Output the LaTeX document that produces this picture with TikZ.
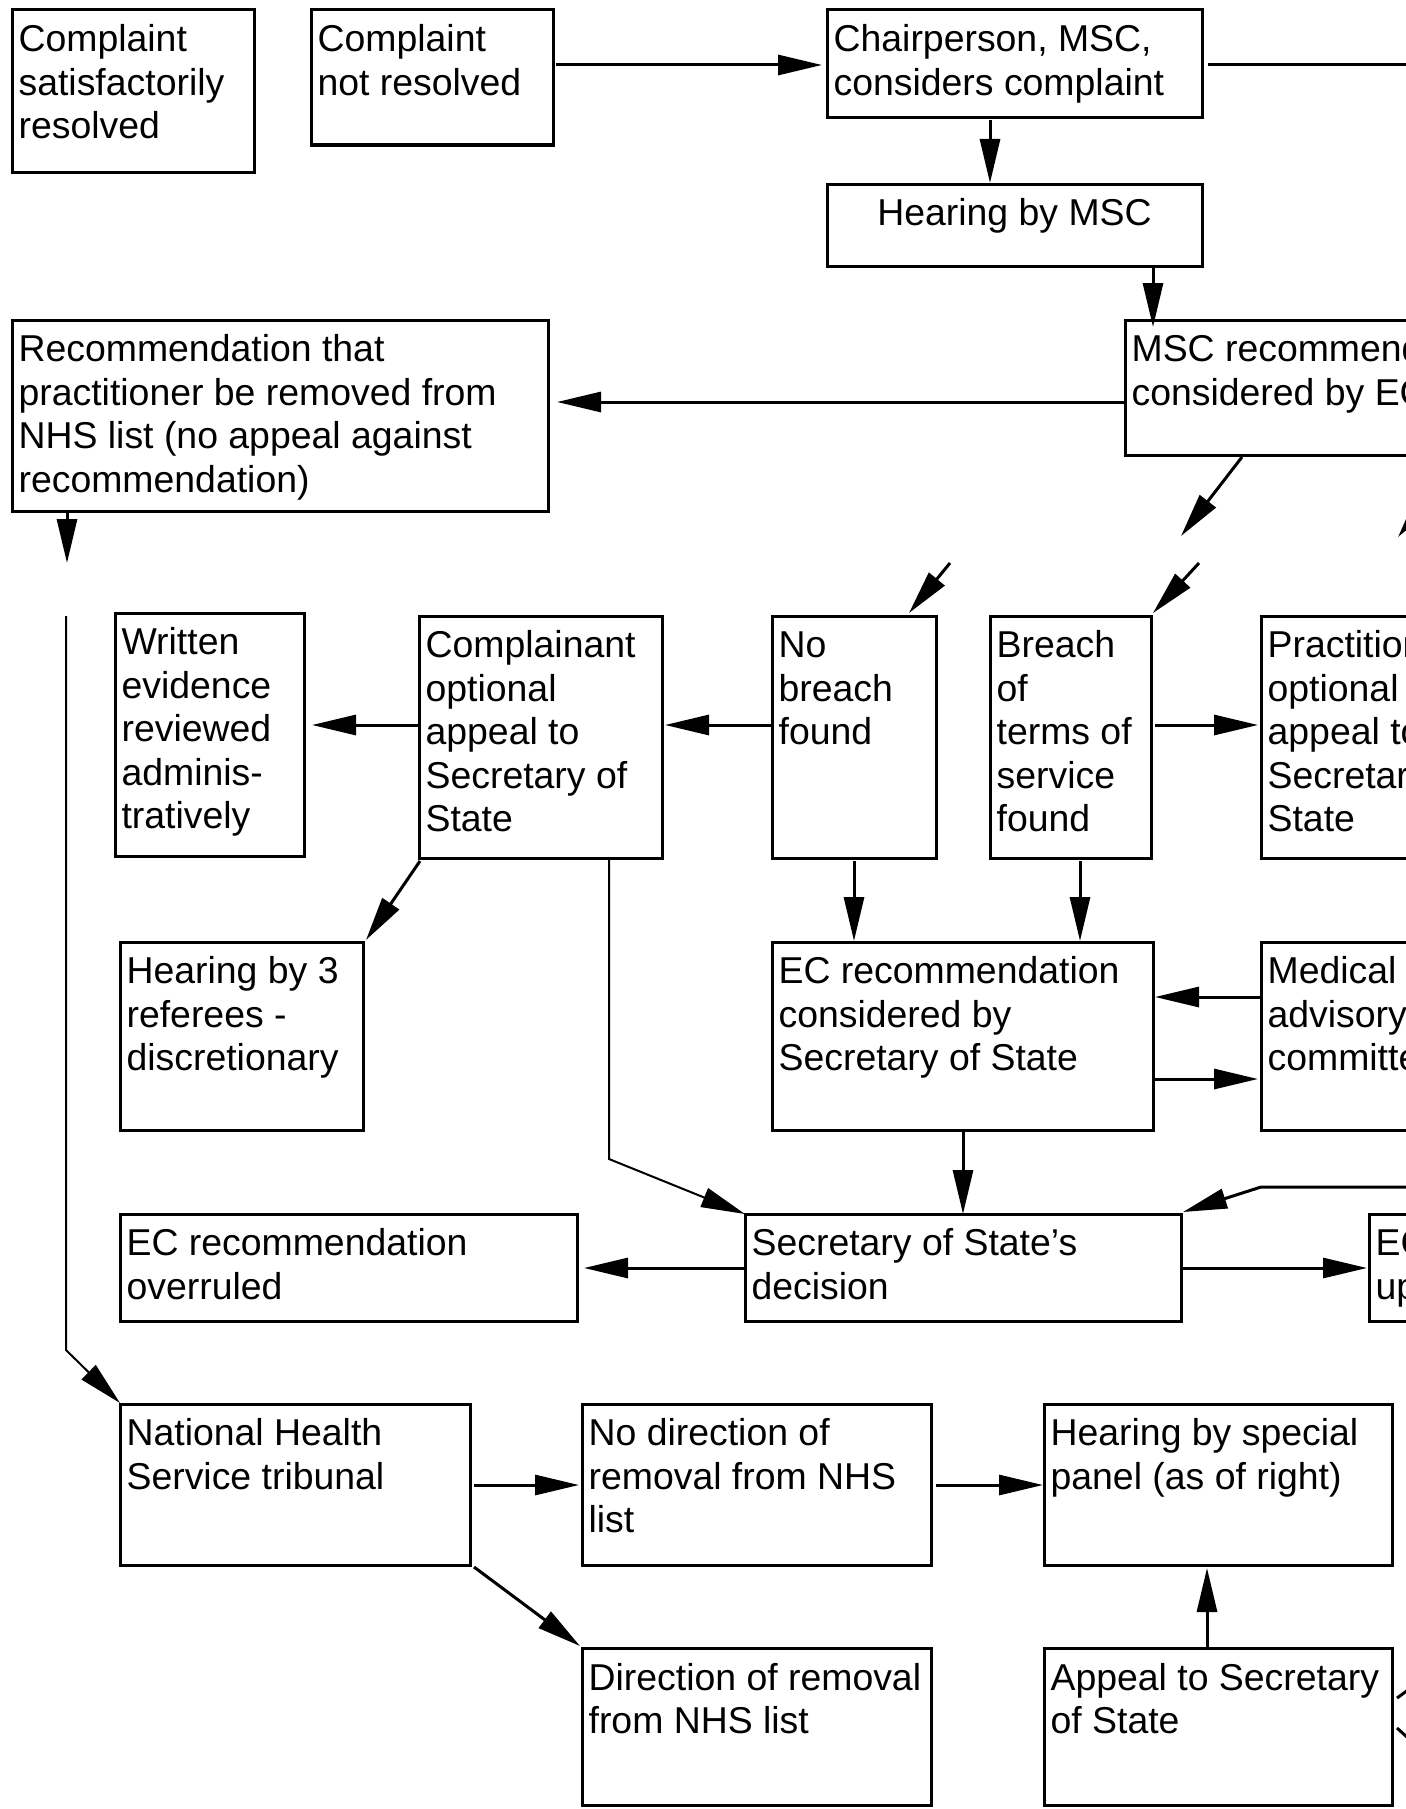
\documentclass[tikz,border=0pt]{standalone}
\usepackage{fontspec}
\setmainfont{Liberation Sans}
\usetikzlibrary{arrows.meta}
\newcommand\bt[3]{\parbox[c][\dimexpr#2pt*1/2\relax][t]{\dimexpr#1pt*1/2-6.6pt\relax}{\vspace*{5.8pt}\noindent\begin{tabular}[t]{@{}l@{}}#3\end{tabular}}}
\newcommand\btc[3]{\parbox[c][\dimexpr#2pt*1/2\relax][t]{\dimexpr#1pt*1/2-6.6pt\relax}{\vspace*{5.8pt}\centering\begin{tabular}[t]{@{}c@{}}#3\end{tabular}\par}}
\begin{document}
\begin{tikzpicture}[x=0.5pt,y=-0.5pt,
  box/.style={draw,line width=1.5pt,inner xsep=3.3pt,inner ysep=0pt,outer sep=0pt,anchor=north west,font=\fontsize{18.7pt}{21.7pt}\selectfont},
  arr/.style={line width=1.5pt,line join=miter,-{Triangle[length=22pt,width=10pt]}},
  thinarr/.style={arr,line width=1pt},
  plain/.style={line width=1.5pt}]
\useasboundingbox (0,0) rectangle (1406,1809);
\clip (0,0) rectangle (1406,1809);
\fill[white] (0,0) rectangle (1406,1809);

% boxes
\node[box] (sat) at (12,10) {\bt{242}{162}{Complaint\\satisfactorily\\resolved}};
\node[box] (notres) at (311,10) {\bt{242}{135}{Complaint\\not resolved}};
\node[box] (chair) at (827,10) {\bt{375}{108}{Chairperson, MSC,\\considers complaint}};
\node[box] (hearmsc) at (827,184) {\btc{375}{82}{Hearing by MSC}};
\node[box] (msc) at (1125,320) {\bt{600}{135}{MSC recommendation\\considered by EC}};
\node[box] (recrem) at (12,320) {\bt{536}{191}{Recommendation that\\practitioner be removed from\\NHS list (no appeal against\\recommendation)}};
\node[box] (written) at (115,613) {\bt{189}{243}{Written\\evidence\\reviewed\\adminis-\\tratively}};
\node[box] (compl) at (419,616) {\bt{243}{242}{Complainant\\optional\\appeal to\\Secretary of\\State}};
\node[box] (nobreach) at (772,616) {\bt{164}{242}{No\\breach\\found}};
\node[box] (breach) at (990,616) {\bt{161}{242}{Breach\\of\\terms of\\service\\found}};
\node[box] (pract) at (1261,616) {\bt{500}{242}{Practitioner\\optional\\appeal to\\Secretary of\\State}};
\node[box] (hear3) at (120,942) {\bt{243}{188}{Hearing by 3\\referees -\\discretionary}};
\node[box] (ecrec) at (772,942) {\bt{381}{188}{EC recommendation\\considered by\\Secretary of State}};
\node[box] (medical) at (1261,942) {\bt{500}{188}{Medical\\advisory\\committee}};
\node[box] (overruled) at (120,1214) {\bt{457}{107}{EC recommendation\\overruled}};
\node[box] (sos) at (745,1214) {\bt{436}{107}{Secretary of State’s\\decision}};
\node[box] (upheld) at (1369,1214) {\bt{500}{107}{EC recommendation\\upheld}};
\node[box] (nhs) at (120,1404) {\bt{350}{161}{National Health\\Service tribunal}};
\node[box] (nodir) at (582,1404) {\bt{349}{161}{No direction of\\removal from NHS\\list}};
\node[box] (special) at (1044,1404) {\bt{348}{161}{Hearing by special\\panel (as of right)}};
\node[box] (direction) at (582,1648) {\bt{349}{157}{Direction of removal\\from NHS list}};
\node[box] (appeal) at (1044,1648) {\bt{348}{157}{Appeal to Secretary\\of State}};

% free ends
\coordinate (ctop) at (1450,65);
\coordinate (f1) at (1181,536);
\coordinate (f2) at (1398,537);
\coordinate (g1) at (950,563);
\coordinate (h1) at (1199,563);
\coordinate (i1) at (67,563);
\coordinate (j1) at (66,616);
\coordinate (j2) at (66,1350);
\coordinate (u1) at (1450,1187);
\coordinate (u2) at (1261,1187);

% connectors
\draw[arr] ([shift={(3,55)}]notres.north east) -- ([shift={(-5,55)}]chair.north west);
\draw[plain] ([shift={(6,55)}]chair.north east) -- (ctop);
\draw[arr] ([shift={(163,2)}]chair.south west) -- ([shift={(163,-1)}]hearmsc.north west);
\draw[arr] ([shift={(326,2)}]hearmsc.south west) -- ([shift={(28,7)}]msc.north west);
\draw[arr] ([shift={(0,82)}]msc.north west) -- ([shift={(9,82)}]recrem.north east);
\draw[arr] ([shift={(117,2)}]msc.south west) -- (f1);
\draw[arr] ([shift={(334,2)}]msc.south west) -- (f2);
\draw[arr] (g1) -- ([shift={(-27,-3)}]nobreach.north east);
\draw[arr] (h1) -- ([shift={(2,-3)}]breach.north east);
\draw[arr] ([shift={(55,0)}]recrem.south west) -- (i1);
\draw[thinarr] (j1) -- (j2) -- ([shift={(0,-1)}]nhs.north west);
\draw[arr] ([shift={(0,109)}]compl.north west) -- ([shift={(8,112)}]written.north east);
\draw[arr] ([shift={(0,109)}]nobreach.north west) -- ([shift={(3,109)}]compl.north east);
\draw[arr] ([shift={(4,109)}]breach.north east) -- ([shift={(-3,109)}]pract.north west);
\draw[arr] ([shift={(1,3)}]compl.south west) -- ([shift={(3,-2)}]hear3.north east);
\draw[thinarr] ([shift={(190,0)}]compl.south west) -- ([shift={(190,301)}]compl.south west) -- (sos.north west);
\draw[arr] ([shift={(82,3)}]nobreach.south west) -- ([shift={(82,-1)}]ecrec.north west);
\draw[arr] ([shift={(90,3)}]breach.south west) -- ([shift={(308,-1)}]ecrec.north west);
\draw[arr] ([shift={(0,55)}]medical.north west) -- ([shift={(2,55)}]ecrec.north east);
\draw[arr] ([shift={(0,137)}]ecrec.north east) -- ([shift={(-3,137)}]medical.north west);
\draw[arr] ([shift={(191,0)}]ecrec.south west) -- ([shift={(218,0)}]sos.north west);
\draw[arr] (u1) -- (u2) -- ([shift={(2,-2)}]sos.north east);
\draw[arr] ([shift={(0,54)}]sos.north west) -- ([shift={(7,54)}]overruled.north east);
\draw[arr] ([shift={(0,54)}]sos.north east) -- ([shift={(-2,54)}]upheld.north west);
\draw[arr] ([shift={(4,81)}]nhs.north east) -- ([shift={(-3,81)}]nodir.north west);
\draw[arr] ([shift={(4,2)}]nhs.south east) -- ([shift={(-2,-2)}]direction.north west);
\draw[arr] ([shift={(5,81)}]nodir.north east) -- ([shift={(-1,81)}]special.north west);
\draw[arr] ([shift={(163,0)}]appeal.north west) -- ([shift={(163,3)}]special.south west);
\draw[plain] ([shift={(5,50)}]appeal.north east) -- ([shift={(16,42)}]appeal.north east);
\draw[plain] ([shift={(5,80)}]appeal.north east) -- ([shift={(16,90)}]appeal.north east);
\end{tikzpicture}
\end{document}
